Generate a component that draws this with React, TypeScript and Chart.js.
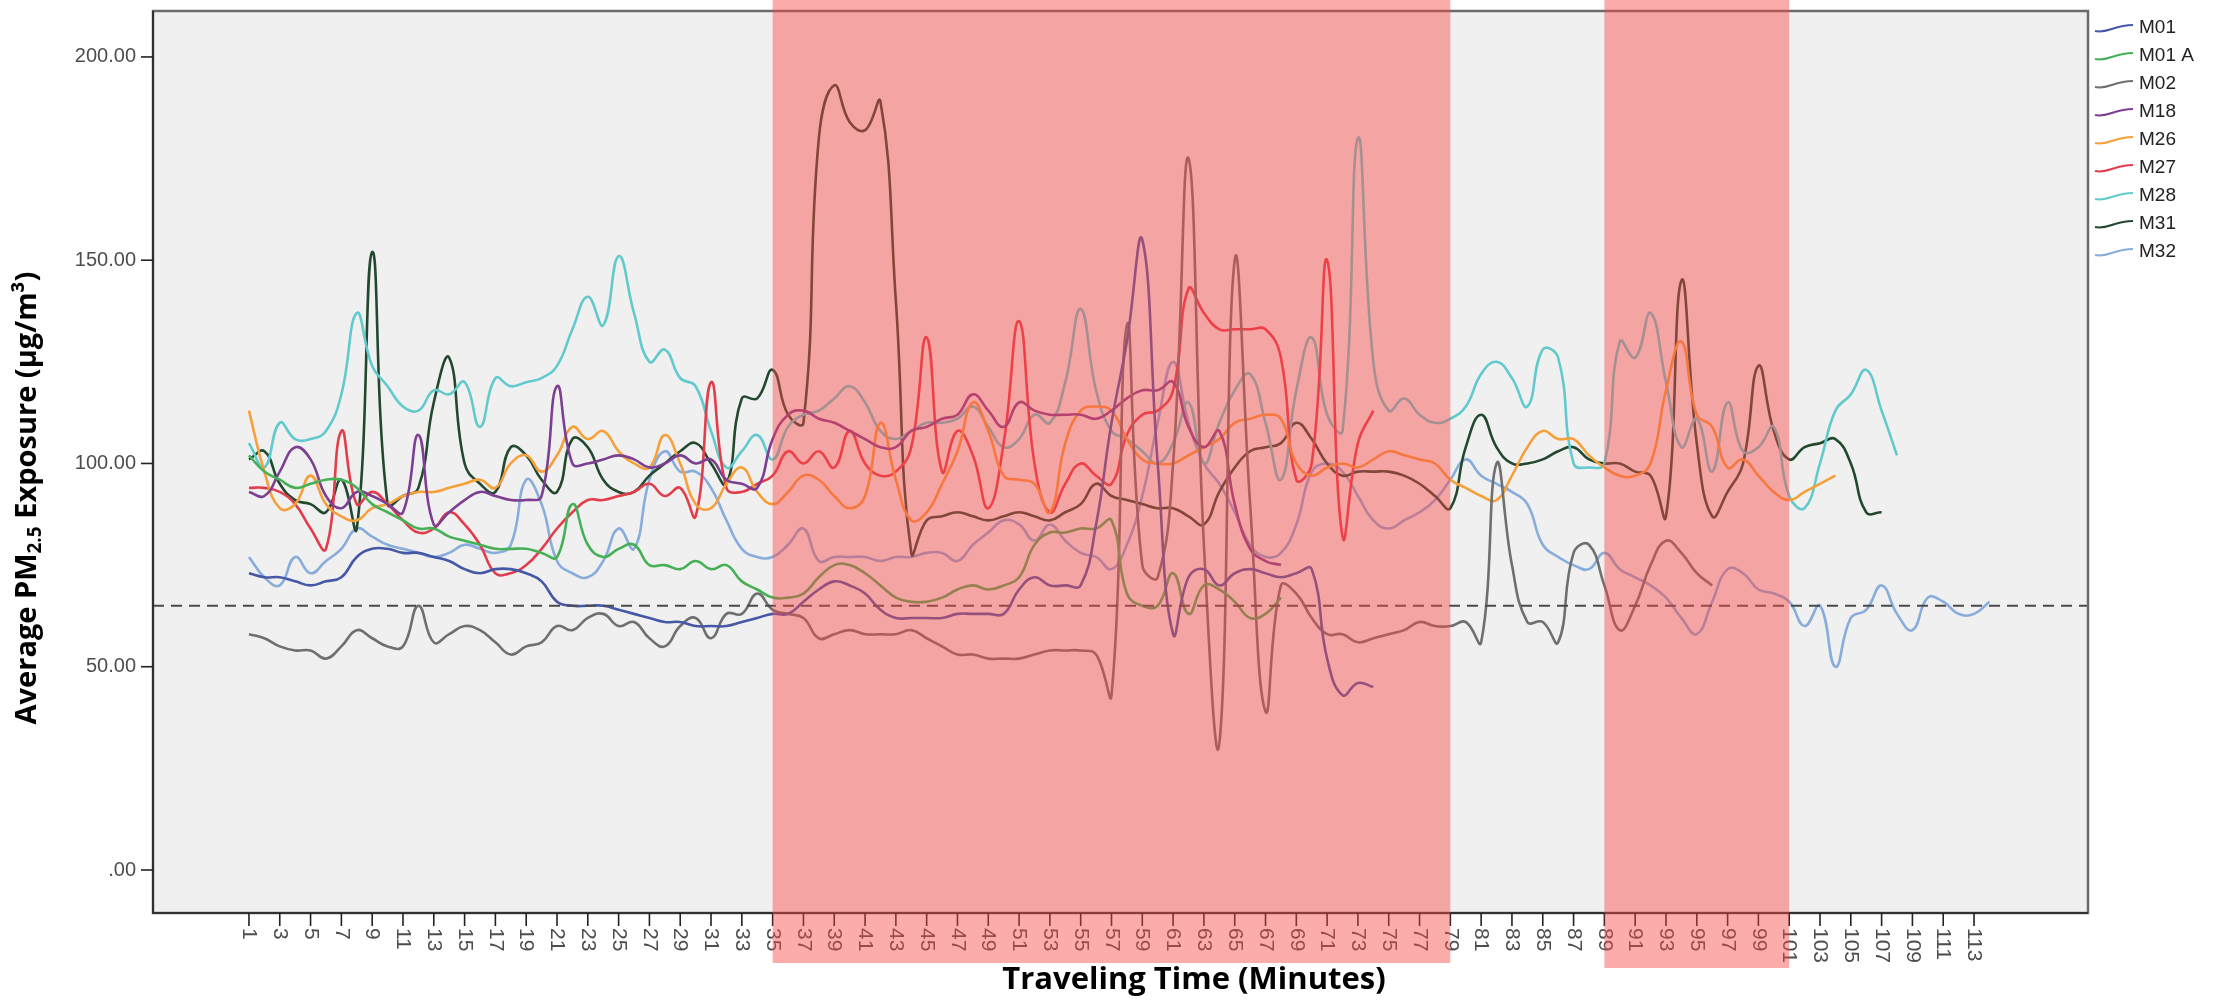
import { useEffect, useRef } from "react";
import { Chart, registerables } from "chart.js";

Chart.register(...registerables);

// ---------------- data ----------------
const minutes = [
  1, 2, 3, 4, 5, 6, 7, 8, 9, 10, 11, 12, 13, 14, 15, 16, 17, 18, 19, 20,
  21, 22, 23, 24, 25, 26, 27, 28, 29, 30, 31, 32, 33, 34, 35, 36, 37, 38, 39, 40,
  41, 42, 43, 44, 45, 46, 47, 48, 49, 50, 51, 52, 53, 54, 55, 56, 57, 58, 59, 60,
  61, 62, 63, 64, 65, 66, 67, 68, 69, 70, 71, 72, 73, 74, 75, 76, 77, 78, 79, 80,
  81, 82, 83, 84, 85, 86, 87, 88, 89, 90, 91, 92, 93, 94, 95, 96, 97, 98, 99, 100,
  101, 102, 103, 104, 105, 106, 107, 108, 109, 110, 111, 112, 113, 114,
];

const xTickMinutes = [
  1, 3, 5, 7, 9, 11, 13, 15, 17, 19, 21, 23, 25, 27, 29, 31, 33, 35, 37, 39,
  41, 43, 45, 47, 49, 51, 53, 55, 57, 59, 61, 63, 65, 67, 69, 71, 73, 75, 77, 79,
  81, 83, 85, 87, 89, 91, 93, 95, 97, 99, 101, 103, 105, 107, 109, 111, 113,
];

const yTicks = [0, 50, 100, 150, 200];
const exposureLimit = 65;
const highlightRanges = [
  [35, 79],
  [89, 101],
];

const seriesNames = ["M01", "M01 A", "M02", "M18", "M26", "M27", "M28", "M31", "M32"];
const seriesColors = [
  "#4558a6", "#45b056", "#6f6f6f", "#7c3f91", "#f5a03a",
  "#e23d4a", "#62cacd", "#22482e", "#88acdb",
];

const M01 = [
  73, 72, 72, 71, 70, 71, 72, 77, 79, 79, 78, 78, 77, 76, 74, 73, 74, 74,
  73, 71, 66, 65, 65, 65, 64, 63, 62, 61, 61, 60, 60, 60, 61, 62, 63,
  63, 66, 69, 71, 70, 68, 64, 62, 62, 62, 62, 63, 63, 63, 63, 69, 72, 70, 70, 70, 85, 110,
  130, 155, 100, 58, 72, 74, 70, 73, 74, 73, 72, 73, 74, 52, 43, 46, 45,
];
const M01A = [
  102, 98, 96, 94, 95, 96, 96, 94, 90, 88, 86, 84, 84, 82, 81, 80, 79, 79,
  79, 78, 77, 90, 80, 77, 79, 80, 75, 75, 74, 76, 74, 75, 71, 69, 67,
  67, 68, 72, 75, 75, 73, 70, 67, 66, 66, 67, 69, 70, 69, 70, 72, 80, 83, 83, 84, 84, 86,
  68, 65, 65, 73, 63, 70, 69, 66, 62, 63, 67,
];
const M02 = [
  58, 57, 55, 54, 54, 52, 55, 59, 57, 55, 55, 65, 56, 58, 60, 59, 56, 53,
  55, 56, 60, 59, 62, 63, 60, 61, 57, 55, 60, 62, 57, 63, 63, 68, 64,
  63, 62, 57, 58, 59, 58, 58, 58, 59, 57, 55, 53, 53, 52, 52, 52, 53, 54, 54, 54, 53, 43,
  134, 75, 72, 100, 175, 80, 31, 150, 90, 39, 70, 68, 62, 58, 58, 56, 57, 58, 59, 61, 60, 60,
  61, 56, 100, 75, 61, 61, 56, 78, 80, 70, 59, 65, 75, 81, 78, 73, 70,
];
const M18 = [
  93, 92, 98, 104, 101, 92, 89, 93, 92, 90, 88, 107, 85, 88, 91, 93, 92, 91,
  91, 92, 119, 100, 100, 101, 102, 101, 99, 100, 102, 100, 101, 96, 95, 94, 106,
  112, 113, 111, 110, 108, 106, 104, 104, 108, 109, 111, 112, 117, 113, 109, 115, 113, 112, 112, 112, 111, 113,
  116, 118, 118, 120, 109, 104, 108, 90, 79, 76, 75,
];
const M26 = [
  113, 98, 89, 90, 97, 90, 87, 86, 89, 90, 92, 93, 93, 94, 95, 96, 94, 100,
  102, 98, 102, 109, 106, 108, 103, 100, 99, 107, 100, 90, 89, 95, 99, 93, 90,
  93, 97, 96, 92, 89, 92, 110, 96, 86, 88, 95, 103, 115, 108, 97, 96, 95, 88, 105, 113, 114, 113,
  106, 101, 100, 100, 102, 104, 106, 110, 111, 112, 111, 100, 97, 99, 100, 99, 101, 103, 102, 101, 100, 96,
  94, 92, 91, 97, 104, 108, 106, 106, 102, 99, 97, 97, 100, 118, 130, 112, 109, 99, 101, 97, 93, 91, 93, 95, 97,
];
const M27 = [
  94, 94, 93, 90, 84, 79, 108, 90, 93, 90, 86, 83, 84, 88, 85, 80, 73, 73,
  75, 79, 84, 88, 91, 91, 92, 93, 95, 92, 94, 87, 120, 94, 93, 95, 97,
  103, 100, 103, 99, 108, 100, 97, 98, 104, 131, 98, 108, 102, 89, 105, 135, 100, 88, 95, 100, 97, 95,
  107, 112, 113, 118, 143, 137, 133, 133, 133, 133, 126, 96, 100, 150, 82, 105, 113,
];
const M28 = [
  105, 99, 110, 106, 106, 108, 117, 137, 124, 119, 114, 113, 118, 117, 120, 109, 121, 119,
  120, 121, 124, 133, 141, 134, 151, 137, 125, 128, 121, 119, 108, 99, 103, 107, 101,
  109, 112, 113, 116, 119, 115, 108, 106, 108, 110, 110, 111, 114, 109, 104, 106, 112, 110, 120, 138, 118, 108,
  106, 103, 100, 105, 115, 100, 110, 118, 122, 110, 96, 118, 131, 112, 108, 180, 125, 113, 116, 112, 110, 111,
  114, 122, 125, 121, 114, 128, 126, 100, 99, 100, 130, 126, 137, 120, 104, 111, 98, 115, 103, 104,
  109, 92, 89, 100, 113, 117, 123, 113, 102,
];
const M31 = [
  101, 103, 95, 91, 90, 88, 96, 84, 152, 90, 92, 94, 115, 126, 100, 95, 93, 104,
  102, 96, 93, 106, 104, 96, 93, 93, 97, 100, 103, 105, 100, 95, 116, 116, 123,
  112, 110, 180, 193, 184, 182, 189, 140, 78, 86, 87, 88, 87, 86, 87, 88, 87, 86, 88, 90, 95, 92,
  91, 90, 89, 89, 87, 85, 93, 99, 103, 104, 105, 110, 106, 100, 97, 98, 98, 98, 97, 95, 92, 89,
  104, 112, 104, 100, 100, 101, 103, 104, 101, 100, 100, 98, 97, 87, 145, 105, 87, 93, 100, 124,
  108, 101, 104, 105, 106, 100, 88, 88,
];
const M32 = [
  77, 72, 70, 77, 73, 76, 79, 84, 82, 80, 79, 78, 77, 78, 80, 79, 78, 80,
  96, 90, 76, 73, 72, 76, 84, 79, 96, 103, 98, 98, 94, 86, 79, 77, 77,
  80, 84, 76, 77, 77, 77, 76, 77, 77, 78, 78, 76, 80, 83, 86, 85, 81, 85, 81, 78, 77, 74,
  80, 92, 110, 125, 110, 100, 95, 88, 80, 77, 78, 85, 98, 100, 98, 92, 86, 84, 86, 88, 91, 96,
  101, 97, 95, 93, 90, 80, 77, 75, 74, 78, 74, 72, 70, 67, 62, 58, 66, 74, 73, 69, 68,
  66, 60, 65, 50, 62, 64, 70, 63, 59, 67, 66, 63, 63, 66,
];

const seriesValues = [M01, M01A, M02, M18, M26, M27, M28, M31, M32];

// ---------------- drawing helpers ----------------
const TICK_FONT = '20px "Liberation Sans", Arial, sans-serif';
const XTICK_FONT = '21px "Liberation Sans", Arial, sans-serif';
const TITLE_FONT = 'bold 29px "Open Sans", sans-serif';
const XTITLE_FONT = 'bold 31px "Open Sans", sans-serif';
const SUB_FONT = 'bold 19px "Open Sans", sans-serif';

const decorPlugin = {
  id: "decor",
  beforeDraw(chart: any) {
    const { ctx, chartArea: a } = chart;
    ctx.save();
    ctx.fillStyle = "#ffffff";
    ctx.fillRect(0, 0, chart.width, chart.height);
    ctx.fillStyle = "#f0f0f0";
    ctx.fillRect(a.left, a.top, a.right - a.left, a.bottom - a.top);
    ctx.restore();
  },
  afterDatasetsDraw(chart: any) {
    const { ctx, chartArea: a } = chart;
    const xs = chart.scales.x;
    const ys = chart.scales.y;
    ctx.save();

    // reference line
    const yl = ys.getPixelForValue(exposureLimit);
    ctx.setLineDash([11, 7]);
    ctx.strokeStyle = "#4a4a4a";
    ctx.lineWidth = 2.2;
    ctx.beginPath();
    ctx.moveTo(a.left, yl);
    ctx.lineTo(a.right, yl);
    ctx.stroke();
    ctx.setLineDash([]);

    // frame
    ctx.strokeStyle = "#6b6b6b";
    ctx.lineWidth = 2.5;
    ctx.strokeRect(a.left, a.top, a.right - a.left, a.bottom - a.top);
    ctx.strokeStyle = "#222222";
    ctx.lineWidth = 1.6;
    ctx.beginPath();
    ctx.moveTo(a.left, a.top);
    ctx.lineTo(a.left, a.bottom);
    ctx.lineTo(a.right, a.bottom);
    ctx.stroke();

    // y ticks
    ctx.font = TICK_FONT;
    ctx.fillStyle = "#4d4d4d";
    ctx.textAlign = "right";
    ctx.textBaseline = "middle";
    ctx.strokeStyle = "#222222";
    ctx.lineWidth = 1.6;
    for (const v of yTicks) {
      const py = ys.getPixelForValue(v);
      ctx.beginPath();
      ctx.moveTo(a.left - 12, py);
      ctx.lineTo(a.left, py);
      ctx.stroke();
      ctx.fillText(v === 0 ? ".00" : v.toFixed(2), a.left - 17, py);
    }

    // x ticks (labels rotated clockwise, reading downwards)
    ctx.font = XTICK_FONT;
    for (const m of xTickMinutes) {
      const px = xs.getPixelForValue(m);
      ctx.beginPath();
      ctx.moveTo(px, a.bottom);
      ctx.lineTo(px, a.bottom + 13);
      ctx.stroke();
      ctx.save();
      ctx.translate(px, a.bottom + 15);
      ctx.rotate(Math.PI / 2);
      ctx.textAlign = "left";
      ctx.textBaseline = "middle";
      ctx.fillText(String(m), 0, 0);
      ctx.restore();
    }

    // highlighted periods
    ctx.fillStyle = "rgba(250, 70, 70, 0.45)";
    highlightRanges.forEach(([s, e], i) => {
      const x1 = xs.getPixelForValue(s);
      const x2 = xs.getPixelForValue(e);
      const bottom = i === 0 ? 963 : 968;
      ctx.fillRect(x1, 0, x2 - x1, bottom);
    });

    // x title
    ctx.fillStyle = "#000000";
    ctx.font = XTITLE_FONT;
    ctx.textAlign = "center";
    ctx.textBaseline = "middle";
    ctx.fillText("Traveling Time (Minutes)", 1194, 980);

    // y title with subscript
    ctx.save();
    ctx.translate(28, 498);
    ctx.rotate(-Math.PI / 2);
    const p1 = "Average PM";
    const p2 = "2.5";
    const p3 = " Exposure (μg/m³)";
    ctx.font = TITLE_FONT;
    const w1 = ctx.measureText(p1).width;
    const w3 = ctx.measureText(p3).width;
    ctx.font = SUB_FONT;
    const w2 = ctx.measureText(p2).width;
    let cx = -(w1 + w2 + w3) / 2;
    ctx.textAlign = "left";
    ctx.textBaseline = "middle";
    ctx.font = TITLE_FONT;
    ctx.fillText(p1, cx, 0);
    cx += w1;
    ctx.font = SUB_FONT;
    ctx.fillText(p2, cx, 8);
    cx += w2;
    ctx.font = TITLE_FONT;
    ctx.fillText(p3, cx, 0);
    ctx.restore();

    // legend
    ctx.font = '19px "Liberation Sans", Arial, sans-serif';
    ctx.textAlign = "left";
    ctx.textBaseline = "middle";
    seriesNames.forEach((name, i) => {
      const ly = 28 + i * 28;
      ctx.strokeStyle = seriesColors[i];
      ctx.lineWidth = 2;
      ctx.beginPath();
      ctx.moveTo(2095, ly + 3);
      ctx.bezierCurveTo(2107, ly + 6, 2114, ly - 3, 2133, ly - 3);
      ctx.stroke();
      ctx.fillStyle = "#222222";
      ctx.fillText(name, 2139, ly);
    });

    ctx.restore();
  },
};

export default function App() {
  const canvasRef = useRef<HTMLCanvasElement | null>(null);

  useEffect(() => {
    const canvas = canvasRef.current;
    if (!canvas) return;
    const datasets = seriesNames.map((name, i) => ({
      label: name,
      data: seriesValues[i].map((v, j) => ({ x: minutes[j], y: v })),
      borderColor: seriesColors[i],
      borderWidth: 2.6,
      pointRadius: 0,
      tension: 0.45,
      fill: false,
    }));
    const chart = new Chart(canvas, {
      type: "line",
      data: { datasets },
      options: {
        animation: false,
        responsive: false,
        devicePixelRatio: 1,
        layout: { padding: { left: 153, right: 131, top: 11, bottom: 88 } },
        plugins: { legend: { display: false }, tooltip: { enabled: false } },
        scales: {
          x: { type: "linear", display: false, min: -5.23, max: 120.4 },
          y: { type: "linear", display: false, min: -10.58, max: 211.3 },
        },
      },
      plugins: [decorPlugin],
    });
    return () => chart.destroy();
  }, []);

  return (
    <canvas
      ref={canvasRef}
      width={2219}
      height={1001}
      style={{ position: "fixed", left: 0, top: 0, width: 2219, height: 1001 }}
    />
  );
}
